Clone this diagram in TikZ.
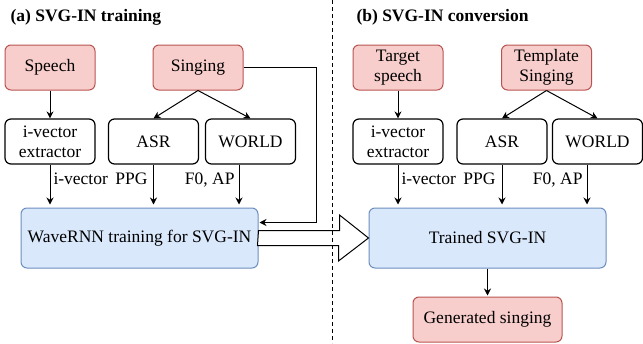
\documentclass[tikz,border=0pt]{standalone}
\usepackage{fontspec}
\setmainfont{Liberation Serif}
\usetikzlibrary{arrows.meta}

\definecolor{srcfill}{HTML}{F8CECC}
\definecolor{srcline}{HTML}{B85450}
\definecolor{netfill}{HTML}{DAE8FC}
\definecolor{netline}{HTML}{6C8EBF}

\tikzset{
  srcbox/.style={draw=srcline, fill=srcfill, line width=1pt, rounded corners=6pt,
    minimum width=90pt, minimum height=45pt, inner sep=0pt, align=center},
  procbox/.style={draw, line width=1.2pt, rounded corners=6pt,
    minimum width=90pt, minimum height=45pt, inner sep=0pt, align=center},
  netbox/.style={draw=netline, fill=netfill, line width=1pt, rounded corners=6pt,
    minimum width=237pt, minimum height=60pt, inner sep=0pt},
  feat/.style={inner sep=0pt},
  title/.style={font=\fontsize{17.5}{20}\selectfont\bfseries, inner sep=0pt, anchor=base west}
}

\begin{document}
\begin{tikzpicture}[x=1pt, y=-1pt, font=\fontsize{17.5}{20}\selectfont,
    >={Stealth[length=7pt,width=7pt]}, line width=1pt]
    \useasboundingbox (0,0) rectangle (643,343);

    % (a) training
    \node[title] (titleA) at (10,21.5) {(a) SVG-IN training};
    \node[srcbox] (speech) at (50,67.5) {Speech};
    \node[srcbox] (sing) at (198,67.5) {Singing};
    \node[procbox] (ivec) at (50,141.5) {i-vector\\extractor};
    \node[procbox] (asr) at (153.5,141.5) {ASR};
    \node[procbox] (world) at (250.5,141.5) {WORLD};
    \node[netbox] (wavernn) at (139.5,238) {WaveRNN training for SVG-IN};

    \draw[->] (speech) -- (ivec);
    \draw[->] (sing.south) -- (asr.north);
    \draw[->] (sing.south) -- (world.north);
    \draw[->, shorten >=3pt] (ivec.south) -- (ivec.south |- wavernn.north);
    \draw[->, shorten >=3pt] (asr.south) -- (asr.south |- wavernn.north);
    \draw[->, shorten >=3pt] ([xshift=-11.5pt]world.south) -- ([xshift=-11.5pt]world.south |- wavernn.north);
    \draw[->, shorten >=1pt] (sing.east) -- ++(73,0) |- ([yshift=15.5pt]wavernn.east);

    \node[feat, anchor=base west] (ivecA) at (53,184) {i-vector};
    \node[feat, anchor=base east] (ppgA) at (148,184) {PPG};
    \node[feat, anchor=base east] (f0A) at (235,184) {F0, AP};

    % (b) conversion
    \node[title] (titleB) at (356,21.5) {(b) SVG-IN conversion};
    \node[srcbox] (target) at (398,67.5) {Target\\speech};
    \node[srcbox] (template) at (546.5,67.5) {Template\\Singing};
    \node[procbox] (ivecB) at (398,141.5) {i-vector\\extractor};
    \node[procbox] (asrB) at (502,141.5) {ASR};
    \node[procbox] (worldB) at (597.5,141.5) {WORLD};
    \node[netbox] (trained) at (487.5,238) {Trained SVG-IN};
    \node[srcbox, minimum width=149pt] (gen) at (487.5,319.5) {Generated singing};

    \draw[->] (target) -- (ivecB);
    \draw[->] (template.south) -- (asrB.north);
    \draw[->] (template.south) -- (worldB.north);
    \draw[->, shorten >=3pt] (ivecB.south) -- (ivecB.south |- trained.north);
    \draw[->, shorten >=3pt] (asrB.south) -- (asrB.south |- trained.north);
    \draw[->, shorten >=3pt] ([xshift=-10.5pt]worldB.south) -- ([xshift=-10.5pt]worldB.south |- trained.north);
    \draw[->, shorten >=1pt] (trained) -- (gen);

    \node[feat, anchor=base west] (ivecBl) at (401,184) {i-vector};
    \node[feat, anchor=base east] (ppgB) at (496,184) {PPG};
    \node[feat, anchor=base east] (f0B) at (583,184) {F0, AP};

    % hollow arrow from training to conversion
    \draw[fill=white] ([yshift=7.5pt]wavernn.east) -- ++(81,0) -- ++(0,-15.5)
      -- (trained.west) -- ++(-30,23) -- ++(0,-15.5) -- ++(-81,0) -- cycle;

    \draw[dash pattern=on 4pt off 3pt] (332,0) -- (332,343);
\end{tikzpicture}
\end{document}
